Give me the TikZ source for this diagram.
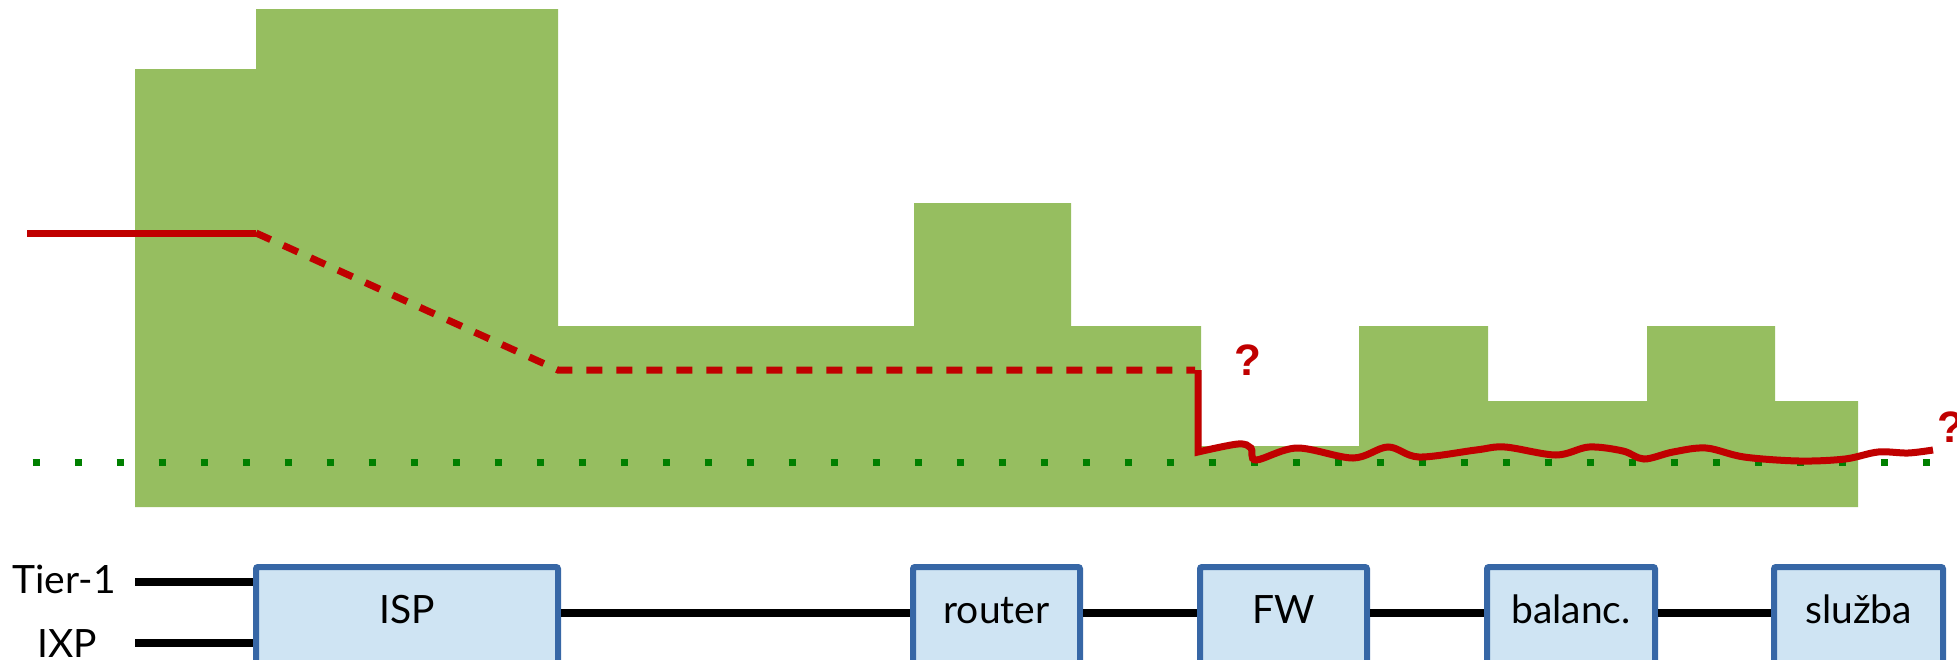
\documentclass[tikz,border=0pt]{standalone}
\usepackage{fontspec}
\setmainfont{Lato}
\newfontfamily\qfont{Liberation Sans}
\definecolor{histgreen}{RGB}{150,190,96}
\definecolor{dotgreen}{RGB}{0,128,0}
\definecolor{linered}{RGB}{192,0,0}
\definecolor{boxblue}{RGB}{55,103,166}
\definecolor{boxfill}{RGB}{207,228,243}
\begin{document}
\begin{tikzpicture}[x=1pt,y=-1pt,
  devbox/.style={draw=boxblue, line width=6pt, fill=boxfill, rounded corners=2pt,
    minimum height=106pt, inner sep=0pt, text height=28pt, text depth=22pt,
    font=\fontsize{39}{47}\selectfont},
  lbl/.style={anchor=base, inner sep=0pt, font=\fontsize{39}{47}\selectfont},
  link/.style={line width=8pt, black},
  redsolid/.style={line width=7pt, linered},
  reddash/.style={line width=7pt, linered, dash pattern=on 16pt off 14pt},
  dotline/.style={line width=7pt, dotgreen, dash pattern=on 7pt off 35pt},
  qmark/.style={text=linered, inner sep=0pt, font=\qfont\bfseries\fontsize{44}{50}\selectfont}
]
\useasboundingbox (0,0) rectangle (1957,659);
\clip (0,0) rectangle (1957,659);

% histogram
\fill[histgreen] (135,507) -- (135,69) -- (256,69) -- (256,9) -- (558,9) -- (558,326)
  -- (914,326) -- (914,203) -- (1071,203) -- (1071,326) -- (1201,326) -- (1201,446)
  -- (1359,446) -- (1359,326) -- (1488,326) -- (1488,401) -- (1647,401) -- (1647,326)
  -- (1775,326) -- (1775,401) -- (1858,401) -- (1858,507) -- cycle;

% green dotted level
\coordinate (d0) at (32.5,462);
\coordinate (d1) at (1935,462);
\draw[dotline] (d0) -- (d1);

% red path
\coordinate (r0) at (27,233);
\coordinate (r1) at (256,233);
\coordinate (r2) at (558,370);
\coordinate (r3) at (1195,370);
\coordinate (r4) at (1198,370);
\coordinate (r5) at (1198,452);
\draw[redsolid] (r0) -- (r1);
\draw[reddash] (r1) -- (r2) -- (r3);
\draw[redsolid, line join=miter] (r4) -- (r5) -- plot[smooth, tension=0.55] coordinates {
  (1198,452) (1238,444) (1251,448) (1256,460) (1297,448) (1353,458) (1388,447)
  (1419,457) (1476,450) (1505,447) (1556,455) (1589,447) (1623,451) (1644,459)
  (1673,452) (1706,448) (1744,457) (1799,461) (1845,459) (1878,452) (1908,453) (1933,450)};

\node[qmark] (q1) at (1248,360) {?};
\node[qmark] (q2) at (1951,427) {?};

% devices
\node[devbox, minimum width=302pt] (isp) at (407,620) {ISP};
\node[devbox, minimum width=167pt] (router) at (996.5,620) {router};
\node[devbox, minimum width=167pt] (fw) at (1283.5,620) {FW};
\node[devbox, minimum width=168pt] (bal) at (1571,620) {balanc.};
\node[devbox, minimum width=169pt] (sl) at (1858.5,620) {služba};

\node[lbl] (tier) at (64,593) {Tier-1};
\node[lbl] (ixp) at (67,657) {IXP};
\coordinate (t1s) at (135,582);
\coordinate (ixs) at (135,643);

\draw[link] (t1s) -- (t1s -| isp.west);
\draw[link] (ixs) -- (ixs -| isp.west);
\draw[link] ([yshift=7pt]isp.east) -- ([yshift=7pt]router.west);
\draw[link] ([yshift=7pt]router.east) -- ([yshift=7pt]fw.west);
\draw[link] ([yshift=7pt]fw.east) -- ([yshift=7pt]bal.west);
\draw[link] ([yshift=7pt]bal.east) -- ([yshift=7pt]sl.west);
\end{tikzpicture}
\end{document}
